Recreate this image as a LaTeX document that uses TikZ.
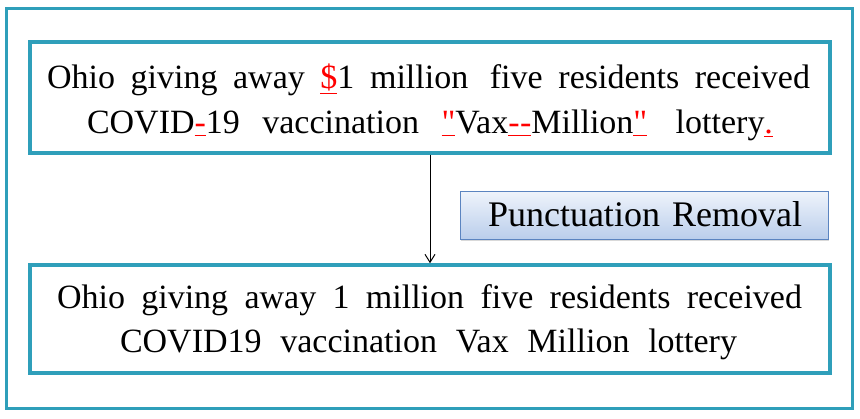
\documentclass[tikz,border=0pt]{standalone}
\usepackage{fontspec}
\setmainfont{Liberation Serif}[Ligatures=TeXOff]
\usetikzlibrary{shadows,arrows.meta}
\definecolor{teal1}{HTML}{2F9FBA}
\definecolor{pbord}{HTML}{5B84C0}
\definecolor{ptop}{HTML}{EEF3FB}
\definecolor{pbot}{HTML}{B9CDEB}
\newcommand\rp[1]{{\color{red}\underline{#1}}}
\newcommand\fitline[2]{\makebox[#1pt][s]{#2}}
\tikzset{
  txtbox/.style={draw=teal1, line width=3.5pt, fill=white, inner sep=0pt},
  txtline/.style={anchor=base, inner sep=0pt, font=\fontsize{34}{40}\selectfont},
  procbox/.style={draw=pbord, line width=1pt, top color=ptop, bottom color=pbot, inner sep=0pt, drop shadow={shadow xshift=1pt, shadow yshift=-1.5pt, opacity=0.3}},
}
\begin{document}
\begin{tikzpicture}[x=1pt,y=-1pt]
\useasboundingbox (0,0) rectangle (860,419);
\draw[teal1, line width=3pt] (6,9) rectangle (852,409);
\node[txtbox, minimum width=800, minimum height=111] (top) at (430,97.5) {};
\node[txtline] (t1) at (428.5,89) {\fitline{763}{Ohio giving away \rp{\$}1 million\hspace{6pt} five residents received}};
\node[txtline] (t2) at (430,134) {\fitline{686}{COVID\rp{-}19 vaccination \rp{"}Vax\rp{-\kern0.5pt-}Million\rp{"}\hspace{6pt} lottery\rp{.}}};
\node[txtbox, minimum width=800, minimum height=108] (bot) at (430,319) {};
\node[txtline] (b1) at (429.5,309) {\fitline{745}{Ohio giving away 1 million five residents received}};
\node[txtline] (b2) at (428.5,353) {\fitline{617}{COVID19 vaccination Vax Million lottery}};
\node[procbox, minimum width=368, minimum height=48] (proc) at (644,216) {};
\node[txtline, font=\fontsize{36}{40}\selectfont] (pt) at (645,227) {\fitline{314}{Punctuation Removal}};
\coordinate (a1) at (430,0);
\draw[-{Straight Barb[length=8pt,width=10pt]}, line width=1pt] (top.south -| a1) -- (bot.north -| a1);
\end{tikzpicture}
\end{document}
